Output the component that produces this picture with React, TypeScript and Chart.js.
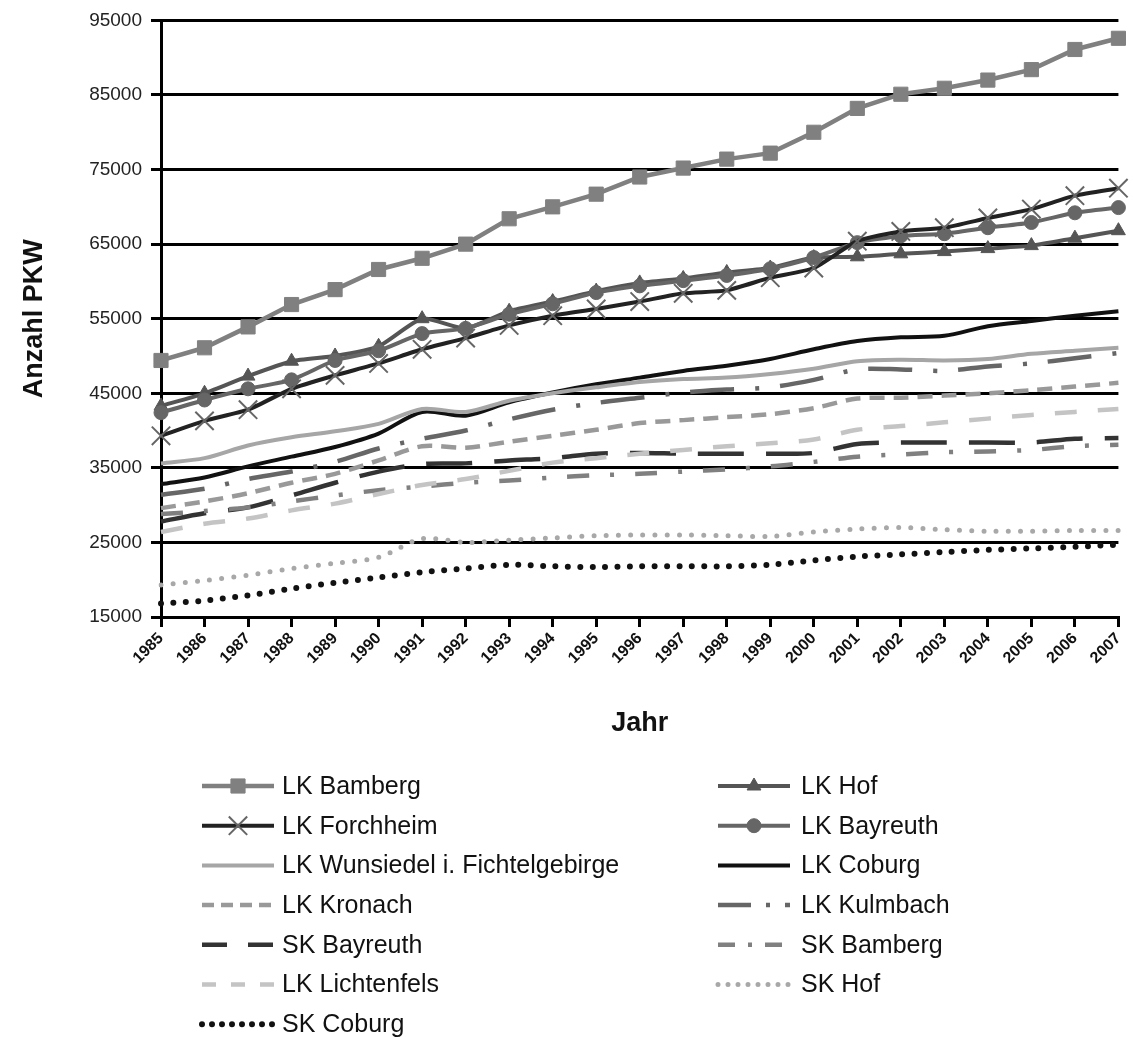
import { useEffect, useRef } from 'react';
import { Chart, registerables } from 'chart.js';
import * as helpers from 'chart.js/helpers';

Chart.register(...registerables);

const years = ['1985', '1986', '1987', '1988', '1989', '1990', '1991', '1992', '1993', '1994', '1995', '1996', '1997', '1998', '1999', '2000', '2001', '2002', '2003', '2004', '2005', '2006', '2007'];

const yTicks = [15000, 25000, 35000, 45000, 55000, 65000, 75000, 85000, 95000];

const lkBamberg = [49400, 51100, 53900, 56900, 58900, 61600, 63100, 65000, 68400, 70000, 71700, 74000, 75200, 76400, 77200, 80000, 83200, 85100, 85900, 87000, 88400, 91100, 92600];
const lkForchheim = [39300, 41300, 42800, 45600, 47400, 49000, 50900, 52400, 54100, 55400, 56300, 57300, 58400, 58800, 60500, 61800, 65400, 66700, 67200, 68500, 69700, 71500, 72500];
const lkHof = [43300, 45000, 47300, 49300, 50000, 51300, 55000, 53700, 56000, 57300, 58700, 59800, 60400, 61200, 61800, 63200, 63300, 63700, 64000, 64400, 64800, 65800, 66800];
const lkBayreuth = [42400, 44100, 45600, 46800, 49400, 50700, 53000, 53700, 55600, 57000, 58500, 59400, 60100, 60800, 61700, 63200, 65200, 66100, 66400, 67200, 67900, 69200, 69900];
const lkWunsiedel = [35600, 36300, 38000, 39100, 39900, 40900, 42900, 42500, 44000, 45000, 45800, 46500, 46900, 47100, 47600, 48300, 49300, 49500, 49400, 49600, 50300, 50700, 51100];
const lkCoburg = [32800, 33700, 35200, 36500, 37800, 39600, 42500, 42000, 43800, 45100, 46200, 47100, 48000, 48700, 49600, 50900, 52000, 52500, 52700, 54000, 54700, 55400, 56000];
const lkKronach = [29600, 30500, 31600, 33000, 34200, 36000, 37900, 37700, 38500, 39300, 40100, 41000, 41400, 41800, 42200, 43000, 44300, 44400, 44700, 45000, 45400, 45900, 46400];
const lkKulmbach = [31400, 32200, 33500, 34500, 35800, 37600, 38900, 40000, 41500, 42800, 43700, 44400, 45100, 45500, 45800, 46800, 48200, 48200, 48000, 48600, 49000, 49700, 50400];
const skBayreuth = [27800, 28900, 29700, 31300, 33000, 34500, 35500, 35600, 36000, 36300, 36900, 37000, 36900, 36900, 36900, 37000, 38200, 38400, 38400, 38400, 38400, 38900, 39000];
const skBamberg = [28800, 29200, 29700, 30500, 31300, 32000, 32500, 33000, 33300, 33700, 34000, 34200, 34500, 34800, 35200, 35800, 36500, 36800, 37100, 37200, 37400, 37900, 38100];
const lkLichtenfels = [26400, 27500, 28200, 29300, 30200, 31500, 32700, 33500, 34600, 35700, 36300, 36900, 37400, 37900, 38300, 38800, 40100, 40600, 41100, 41600, 42100, 42500, 42900];
const skHof = [19300, 19900, 20600, 21500, 22200, 23000, 25500, 25000, 25300, 25600, 25900, 26000, 26000, 25900, 25800, 26400, 26800, 27000, 26700, 26500, 26500, 26600, 26600];
const skCoburg = [16800, 17200, 17900, 18800, 19600, 20300, 21000, 21500, 22000, 21800, 21700, 21800, 21800, 21800, 22000, 22600, 23100, 23400, 23700, 24000, 24200, 24400, 24700];

const legendLeft = ['LK Bamberg', 'LK Forchheim', 'LK Wunsiedel i. Fichtelgebirge', 'LK Kronach', 'SK Bayreuth', 'LK Lichtenfels', 'SK Coburg'];
const legendRight = ['LK Hof', 'LK Bayreuth', 'LK Coburg', 'LK Kulmbach', 'SK Bamberg', 'SK Hof'];

const FONT = '"Liberation Sans", Arial, sans-serif';

const legendPlugin = {
  id: 'twoColLegend',
  afterDraw(chart: any) {
    const ctx = chart.ctx;
    const drawItem = (label: string, col: number, row: number) => {
      const ds = chart.data.datasets.find((d: any) => d.label === label);
      if (!ds) return;
      const x0 = col === 0 ? 202 : 718;
      const x1 = x0 + 72;
      const y = 786 + row * 39.7;
      ctx.save();
      ctx.strokeStyle = ds.borderColor;
      ctx.lineWidth = ds.borderWidth;
      ctx.lineCap = ds.borderCapStyle || 'butt';
      ctx.setLineDash(ds.legendDash || ds.borderDash || []);
      ctx.beginPath();
      ctx.moveTo(x0, y);
      ctx.lineTo(x1, y);
      ctx.stroke();
      ctx.setLineDash([]);
      if (ds.pointRadius > 0) {
        ctx.fillStyle = ds.pointBackgroundColor;
        ctx.strokeStyle = ds.pointBorderColor;
        ctx.lineWidth = ds.pointBorderWidth;
        helpers.drawPoint(ctx, { pointStyle: ds.pointStyle, rotation: 0, radius: ds.pointRadius, borderWidth: ds.pointBorderWidth }, (x0 + x1) / 2, y);
      }
      ctx.fillStyle = '#111';
      ctx.font = `25px ${FONT}`;
      ctx.textBaseline = 'middle';
      ctx.textAlign = 'left';
      ctx.fillText(label, col === 0 ? 282 : 801, y + 1);
      ctx.restore();
    };
    legendLeft.forEach((l, i) => drawItem(l, 0, i));
    legendRight.forEach((l, i) => drawItem(l, 1, i));
  },
};

export default function App() {
  const ref = useRef<HTMLCanvasElement | null>(null);

  useEffect(() => {
    document.body.style.margin = '0';
    const canvas = ref.current;
    if (!canvas) return;

    const line = (label: string, data: number[], color: string, width: number, extra: any = {}) => ({
      label,
      data,
      borderColor: color,
      backgroundColor: color,
      borderWidth: width,
      pointRadius: 0,
      pointHoverRadius: 0,
      fill: false,
      tension: 0.3,
      borderCapStyle: 'butt',
      ...extra,
    });

    const chart = new Chart(canvas, {
      type: 'line',
      data: {
        labels: years,
        datasets: [
          line('SK Coburg', skCoburg, '#111111', 6, { borderDash: [0, 12.4], borderCapStyle: 'round', legendDash: [0, 10] }),
          line('SK Hof', skHof, '#a8a8a8', 5, { borderDash: [0, 12.2], borderCapStyle: 'round', legendDash: [0, 10] }),
          line('LK Lichtenfels', lkLichtenfels, '#c4c4c4', 4.5, { borderDash: [22, 21], legendDash: [14, 15] }),
          line('SK Bamberg', skBamberg, '#808080', 4.5, { borderDash: [22, 21, 4, 21], legendDash: [17, 13, 4, 13] }),
          line('SK Bayreuth', skBayreuth, '#333333', 4.5, { borderDash: [46, 22], legendDash: [25, 21] }),
          line('LK Kronach', lkKronach, '#999999', 4.5, { borderDash: [15, 9], legendDash: [12, 7] }),
          line('LK Kulmbach', lkKulmbach, '#666666', 4.5, { borderDash: [44, 21, 4, 21], legendDash: [33, 15, 4, 15] }),
          line('LK Wunsiedel i. Fichtelgebirge', lkWunsiedel, '#a6a6a6', 4),
          line('LK Coburg', lkCoburg, '#111111', 4),
          line('LK Forchheim', lkForchheim, '#222222', 4, {
            tension: 0.2, pointStyle: 'crossRot', pointRadius: 13, pointBorderWidth: 2,
            pointBorderColor: '#666666', pointBackgroundColor: '#666666',
          }),
          line('LK Bayreuth', lkBayreuth, '#666666', 4, {
            tension: 0.2, pointStyle: 'circle', pointRadius: 7, pointBorderWidth: 1,
            pointBorderColor: '#666666', pointBackgroundColor: '#666666',
          }),
          line('LK Hof', lkHof, '#555555', 4, {
            tension: 0.2, pointStyle: 'triangle', pointRadius: 8, pointBorderWidth: 1,
            pointBorderColor: '#555555', pointBackgroundColor: '#555555',
          }),
          line('LK Bamberg', lkBamberg, '#808080', 4.5, {
            tension: 0, pointStyle: 'rect', pointRadius: 10, pointBorderWidth: 1,
            pointBorderColor: '#808080', pointBackgroundColor: '#808080',
          }),
        ],
      },
      options: {
        animation: false,
        responsive: false,
        devicePixelRatio: 1,
        events: [],
        layout: { padding: { top: 19, right: 6, left: 0, bottom: 297 } },
        plugins: {
          legend: { display: false },
          tooltip: { enabled: false },
        },
        scales: {
          x: {
            type: 'category',
            offset: false,
            grid: { drawOnChartArea: false, drawTicks: true, tickLength: 10, color: '#000', lineWidth: 3 },
            border: { display: true, color: '#000', width: 3 },
            ticks: {
              autoSkip: false,
              maxRotation: 45,
              minRotation: 45,
              padding: 2,
              color: '#111',
              font: { family: FONT, size: 16, weight: 'bold' },
            },
            title: {
              display: true,
              text: 'Jahr',
              color: '#111',
              font: { family: FONT, size: 27, weight: 'bold' },
              padding: { top: 0, bottom: 0 },
            },
            afterFit: (s: any) => { s.height = 123; },
          },
          y: {
            min: 15000,
            max: 95000,
            afterBuildTicks: (s: any) => { s.ticks = yTicks.map((v) => ({ value: v })); },
            ticks: {
              padding: 9,
              color: '#222',
              font: { family: FONT, size: 19 },
              callback: (v: any) => String(v),
            },
            grid: { color: '#000', lineWidth: 3, tickLength: 10, drawTicks: true },
            border: { display: true, color: '#000', width: 3 },
            title: {
              display: true,
              text: 'Anzahl PKW',
              color: '#111',
              font: { family: FONT, size: 27, weight: 'bold' },
              padding: { top: 18, bottom: 0 },
            },
            afterFit: (s: any) => { s.width = 161; },
          },
        },
      },
      plugins: [legendPlugin],
    } as any);

    return () => chart.destroy();
  }, []);

  return <canvas ref={ref} width={1134} height={1037} style={{ display: 'block', width: 1134, height: 1037, background: '#fff' }} />;
}
